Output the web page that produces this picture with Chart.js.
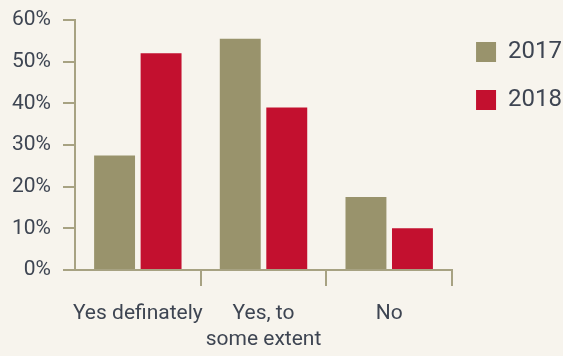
<!DOCTYPE html>
<html>
<head>
<meta charset="utf-8">
<script src="https://cdn.jsdelivr.net/npm/chart.js@4"></script>
<style>
  html, body { margin: 0; padding: 0; background: #f7f4ed; }
  #wrap { width: 563px; height: 356px; }
</style>
</head>
<body>
<div id="wrap"><canvas id="surveyChart"></canvas></div>
<script>
// Survey answers, share of respondents (%)
const categories = ["Yes definately", ["Yes, to", "some extent"], "No"];
const years = ["2017", "2018"];
const values2017 = [27.5, 55.5, 17.5];
const values2018 = [52, 39, 10];
const yTicks = [0, 10, 20, 30, 40, 50, 60];

const olive = "#99936c";
const red = "#c3102f";
const axisColor = "#a7a282";
const textColor = "#3e4552";

Chart.defaults.font.family = "Roboto, 'DejaVu Sans Condensed', sans-serif";
Chart.defaults.color = textColor;

new Chart(document.getElementById("surveyChart"), {
  type: "bar",
  data: {
    labels: categories,
    datasets: [
      { label: years[0], data: values2017, backgroundColor: olive },
      { label: years[1], data: values2018, backgroundColor: red }
    ]
  },
  options: {
    responsive: true,
    maintainAspectRatio: false,
    animation: false,
    categoryPercentage: 0.74,
    barPercentage: 0.88,
    layout: { padding: { top: 0, right: -9, left: 0, bottom: 0 } },
    plugins: {
      tooltip: { enabled: false },
      legend: {
        position: "right",
        align: "start",
        // empty title only pushes the legend items down a little
        title: { display: true, text: "", font: { size: 10 }, padding: { top: 0, bottom: 4 } },
        labels: {
          boxWidth: 20,
          boxHeight: 20,
          padding: 24,
          font: { size: 24 },
          color: textColor
        }
      }
    },
    scales: {
      x: {
        z: 1,
        // keep the category axis band at a fixed height
        afterFit: scale => { scale.height = 86; },
        grid: {
          drawOnChartArea: false,
          drawTicks: true,
          tickLength: 16,
          lineWidth: 2,
          color: ctx => (ctx.index === 0 ? "rgba(0,0,0,0)" : axisColor)
        },
        border: { color: axisColor, width: 2 },
        ticks: {
          font: { size: 21, lineHeight: 1.22 },
          padding: 15,
          color: textColor,
          autoSkip: false,
          maxRotation: 0,
          minRotation: 0
        }
      },
      y: {
        min: yTicks[0],
        max: yTicks[yTicks.length - 1],
        afterBuildTicks: axis => { axis.ticks = yTicks.map(v => ({ value: v })); },
        // room above the top tick only needs to fit half the "60%" label
        afterFit: scale => { scale.paddingTop = 20; },
        grid: {
          drawOnChartArea: false,
          drawTicks: true,
          tickLength: 12,
          lineWidth: 2,
          color: axisColor
        },
        border: { color: axisColor, width: 2 },
        ticks: { font: { size: 21 }, padding: 12, color: textColor, callback: v => v + "%" }
      }
    }
  }
});
</script>
</body>
</html>
